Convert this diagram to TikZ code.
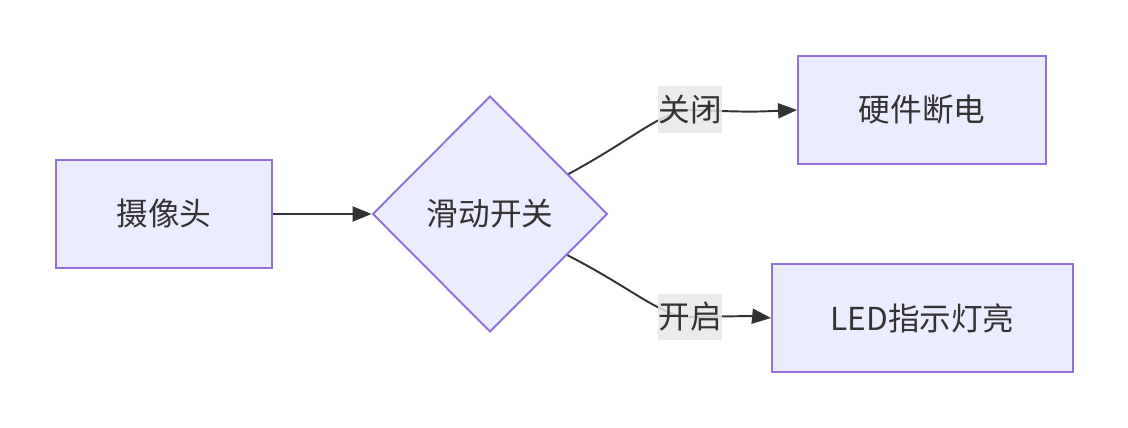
\documentclass[tikz,border=0pt]{standalone}
\usepackage{fontspec}
\setmainfont{Noto Sans CJK SC}
\usetikzlibrary{shapes.geometric,arrows.meta}
\definecolor{nodefill}{HTML}{ECECFF}
\definecolor{nodeline}{HTML}{9370DB}
\definecolor{edgeline}{HTML}{333333}
\definecolor{labelbg}{HTML}{E8E8E8}
\tikzset{
  box/.style={draw=nodeline, fill=nodefill, line width=1.1pt, inner sep=0pt, text=edgeline,
    font=\fontsize{18}{22}\selectfont},
  decision/.style={diamond, draw=nodeline, fill=nodefill, line width=1.1pt, inner sep=0pt,
    minimum width=4.7cm, minimum height=4.72cm, text=edgeline, font=\fontsize{18}{22}\selectfont},
  edge/.style={draw=edgeline, line width=1.1pt, -{Triangle[length=0.38cm,width=0.3cm]}},
  elabel/.style={fill=labelbg, fill opacity=0.85, text opacity=1, text=edgeline, inner sep=0pt,
    minimum width=1.28cm, minimum height=0.94cm, font=\fontsize{18}{22}\selectfont}
}
\begin{document}
\begin{tikzpicture}[x=0.02cm,y=-0.02cm]
\useasboundingbox (0,0) rectangle (1128,428);
\node[box, minimum width=4.32cm, minimum height=2.16cm] (cam) at (164,214) {摄像头};
\node[decision] (sw) at (490,214) {滑动开关};
\node[box, minimum width=4.96cm, minimum height=2.16cm] (off) at (922,110) {硬件断电};
\node[box, minimum width=6.02cm, minimum height=2.16cm] (led) at (922.5,318) {LED指示灯亮};
\coordinate (l1) at (690,110);
\coordinate (l2) at (690,317);
\draw[edge] (cam.east) -- (sw.west);
\draw[edge] (sw.27) .. controls (635,138) and (660,112) .. (l1) .. controls (750,112) .. (off.west);
\draw[edge] (sw.-28) .. controls (635,290) and (660,316) .. (l2) .. controls (750,316) .. (led.west);
\node[elabel] (lab1) at (l1) {关闭};
\node[elabel] (lab2) at (l2) {开启};
\end{tikzpicture}
\end{document}
